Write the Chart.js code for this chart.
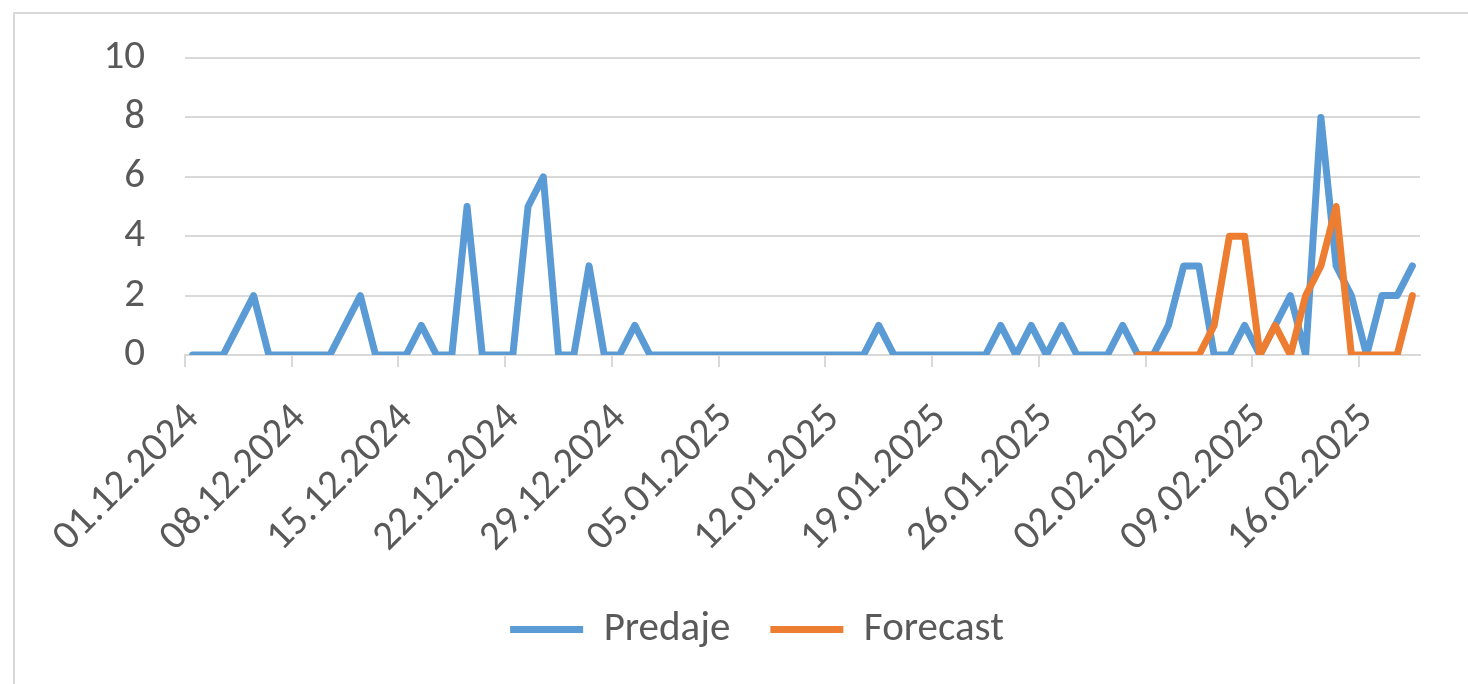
<!DOCTYPE html>
<html>
<head>
<meta charset="utf-8">
<script src="https://cdn.jsdelivr.net/npm/chart.js@4.4.1/dist/chart.umd.min.js"></script>
<style>
  body { margin: 0; background: #fff; }
  #wrap { position: relative; width: 1468px; height: 684px; overflow: hidden; }
  #frame { position: absolute; left: 13px; top: 12px; width: 1500px; height: 720px; border: 2px solid #d9d9d9; }
  #chart { position: absolute; left: 0; top: 0; }
</style>
</head>
<body>
<div id="wrap">
  <div id="frame"></div>
  <canvas id="chart" width="1468" height="684"></canvas>
</div>
<script>
// daily values, 01.12.2024 .. 19.02.2025
var predaje = [
  0, 0, 0, 1, 2, 0, 0, 0, 0, 0,
  1, 2, 0, 0, 0, 1, 0, 0, 5, 0,
  0, 0, 5, 6, 0, 0, 3, 0, 0, 1,
  0, 0, 0, 0, 0, 0, 0, 0, 0, 0,
  0, 0, 0, 0, 0, 1, 0, 0, 0, 0,
  0, 0, 0, 1, 0, 1, 0, 1, 0, 0,
  0, 1, 0, 0, 1, 3, 3, 0, 0, 1,
  0, 1, 2, 0, 8, 3, 2, 0, 2, 2,
  3
];
// forecast starts at day 62 (01.02.2025)
var forecastStart = 62;
var forecast = [0, 0, 0, 0, 0, 1, 4, 4, 0, 1, 0, 2, 3, 5, 0, 0, 0, 0, 2];

// one label every 7 days
var tickLabels = ['01.12.2024', '08.12.2024', '15.12.2024', '22.12.2024', '29.12.2024',
  '05.01.2025', '12.01.2025', '19.01.2025', '26.01.2025', '02.02.2025',
  '09.02.2025', '16.02.2025'];
var dayCount = 81;

var textColor = '#595959';
var gridColor = '#d9d9d9';
var fontFamily = 'Carlito, Calibri, Lato, sans-serif';
var fontSize = 41;

function toPoints(values, start) {
  return values.map(function (v, i) { return { x: start + i + 0.5, y: v }; });
}

var ctx = document.getElementById('chart').getContext('2d');
var chart = new Chart(ctx, {
  type: 'line',
  data: {
    datasets: [
      {
        label: 'Predaje',
        data: toPoints(predaje, 0),
        borderColor: '#5b9bd5',
        backgroundColor: '#5b9bd5',
        borderWidth: 7,
        borderCapStyle: 'round',
        borderJoinStyle: 'round',
        pointRadius: 0,
        tension: 0,
        order: 1
      },
      {
        label: 'Forecast',
        data: toPoints(forecast, forecastStart),
        borderColor: '#ed7d31',
        backgroundColor: '#ed7d31',
        borderWidth: 7,
        borderCapStyle: 'round',
        borderJoinStyle: 'round',
        pointRadius: 0,
        tension: 0,
        order: 0
      }
    ]
  },
  options: {
    responsive: false,
    animation: false,
    layout: { padding: { left: 94, right: 48, top: 58, bottom: 24 } },
    plugins: {
      tooltip: { enabled: false },
      legend: {
        position: 'bottom',
        labels: {
          usePointStyle: true,
          pointStyle: 'line',
          pointStyleWidth: 73,
          boxHeight: 7,
          padding: 40,
          color: textColor,
          font: { family: fontFamily, size: fontSize },
          sort: function (a, b) { return a.datasetIndex - b.datasetIndex; }
        }
      }
    },
    scales: {
      x: {
        type: 'linear',
        min: 0,
        max: dayCount,
        afterBuildTicks: function (scale) {
          scale.ticks = tickLabels.map(function (l, i) { return { value: i * 7 }; });
        },
        afterFit: function (scale) { scale.height = 214; },
        ticks: {
          autoSkip: false,
          minRotation: 45,
          maxRotation: 45,
          padding: 28,
          labelOffset: 8,
          color: textColor,
          font: { family: fontFamily, size: fontSize },
          callback: function (value) { return tickLabels[Math.round(value / 7)]; }
        },
        grid: {
          drawOnChartArea: false,
          drawTicks: true,
          tickLength: 12,
          color: gridColor,
          lineWidth: 2
        },
        border: { display: true, color: gridColor, width: 2 }
      },
      y: {
        min: 0,
        max: 10,
        afterFit: function (scale) {
          scale.width = 91;
          // label padding should not push the plot down
          scale.paddingTop = 25;
          scale.paddingBottom = 25;
        },
        ticks: {
          stepSize: 2,
          padding: 40,
          color: textColor,
          font: { family: fontFamily, size: fontSize }
        },
        grid: { color: gridColor, lineWidth: 2, drawTicks: false },
        border: { display: false }
      }
    }
  }
});
</script>
</body>
</html>
